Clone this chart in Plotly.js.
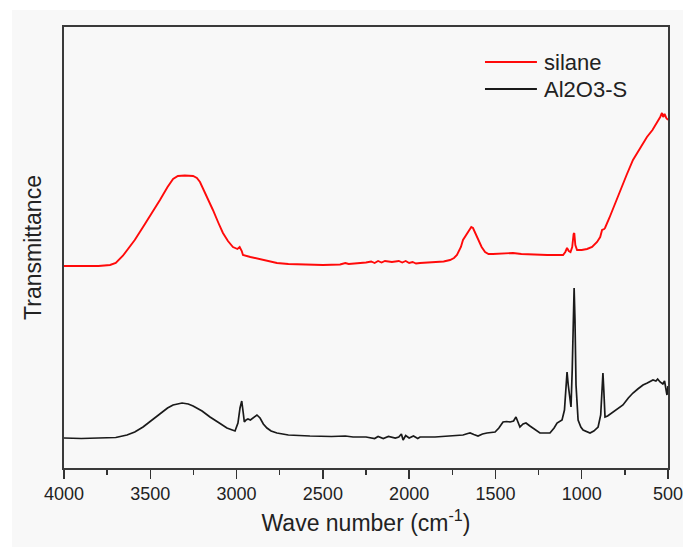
<!DOCTYPE html>
<html>
<head>
<meta charset="utf-8">
<script src="https://cdn.plot.ly/plotly-3.0.1.min.js"></script>
<style>
  html, body { margin: 0; padding: 0; background: #ffffff; }
  #chart { width: 683px; height: 547px; }
</style>
</head>
<body>
<div id="chart"></div>
<script>
// Wave numbers (cm-1) and transmittance (arbitrary units)
const silaneWavenumber = [4000, 3900, 3800, 3733, 3700, 3660, 3635, 3590, 3542, 3490, 3444, 3400, 3368, 3340, 3300, 3252, 3230, 3212, 3175, 3137, 3105, 3079, 3050, 3021, 2995, 2982, 2970, 2963, 2920, 2864, 2800, 2766, 2700, 2632, 2500, 2400, 2370, 2350, 2300, 2250, 2220, 2200, 2180, 2160, 2140, 2100, 2060, 2040, 2020, 2000, 1980, 1960, 1937, 1880, 1800, 1763, 1740, 1723, 1700, 1688, 1660, 1640, 1630, 1615, 1601, 1580, 1560, 1540, 1514, 1450, 1398, 1350, 1300, 1259, 1200, 1108, 1095, 1085, 1075, 1065, 1055, 1047, 1043, 1037, 1027, 1000, 969, 940, 911, 893, 882, 870, 865, 840, 800, 778, 740, 703, 660, 622, 590, 564, 545, 535, 528, 520, 510, 500];
const silaneTransmittance = [202, 202, 202, 203, 205, 212, 218, 228, 241, 255, 268, 281, 289, 292, 292.5, 292, 290, 286, 273, 258, 245, 235, 227, 221, 219, 221, 217, 213, 211, 209, 206, 205, 204, 203.5, 203, 203.5, 205, 204, 204.5, 205.5, 206.5, 205, 207, 205.5, 207, 206, 207, 205.5, 207, 205, 206, 204.5, 205, 205.5, 206.5, 208, 210, 213, 221, 228, 236, 241, 240, 234, 228, 221, 216, 214, 214, 214.5, 215, 214, 213.5, 213, 213, 213, 216, 220, 217, 216, 221, 234, 235, 223, 218, 218, 219, 221, 226, 231, 238, 239, 240, 250, 268, 278, 293, 308, 321, 331, 338, 345, 351, 355, 351, 354, 350, 348];

const aluminaWavenumber = [4000, 3900, 3800, 3700, 3635, 3590, 3542, 3490, 3444, 3400, 3368, 3316, 3280, 3252, 3200, 3154, 3100, 3056, 3009, 2992, 2980, 2970, 2962, 2955, 2945, 2934, 2920, 2900, 2882, 2864, 2845, 2824, 2800, 2766, 2700, 2575, 2450, 2370, 2325, 2250, 2200, 2180, 2150, 2120, 2080, 2060, 2045, 2035, 2020, 2000, 1975, 1950, 1937, 1850, 1750, 1688, 1660, 1647, 1625, 1601, 1575, 1549, 1502, 1480, 1456, 1435, 1415, 1395, 1381, 1370, 1358, 1340, 1323, 1300, 1282, 1262, 1242, 1184, 1160, 1143, 1114, 1100, 1093, 1085, 1078, 1068, 1062, 1055, 1049, 1044, 1039, 1033, 1021, 1005, 992, 952, 930, 905, 890, 882, 877, 872, 865, 850, 818, 790, 761, 730, 703, 675, 645, 620, 600, 587, 570, 560, 546, 530, 520, 512, 506, 500];
const aluminaTransmittance = [30, 29.5, 30, 30.5, 33, 36, 41, 48, 55, 60, 63, 65, 64, 62, 57, 51, 45, 40, 37, 45, 60, 67, 56, 46, 48, 49, 48, 51, 53, 50, 44, 40, 37, 35, 33, 32, 31.5, 32, 31, 31, 29.5, 31.5, 29.5, 31.5, 30, 31, 34, 28, 32.5, 30, 32, 29.5, 31, 31, 32, 33, 34.5, 35, 33.5, 32, 34, 35, 36, 40, 46, 46.5, 46, 47, 51, 46, 41, 44, 45, 42, 40, 37, 35, 35, 40, 45, 48, 58, 83, 96, 83, 65, 61, 98, 158, 180, 148, 83, 48, 41, 38, 35, 37, 41, 53, 83, 95, 78, 51, 52, 56, 59, 63, 70, 75, 79, 83, 85, 87, 88, 87, 89, 86, 84, 87, 80, 73, 82];

const seriesNames = ['silane', 'Al2O3-S'];
const seriesColors = ['#ff0a0a', '#1a1a1a'];
const xTickValues = [4000, 3500, 3000, 2500, 2000, 1500, 1000, 500];
const xTickLabels = ['4000', '3500', '3000', '2500', '2000', '1500', '1000', '500'];

const FONT = '"Liberation Sans", Arial, sans-serif';

const traces = [
  {
    x: silaneWavenumber, y: silaneTransmittance, name: seriesNames[0],
    type: 'scatter', mode: 'lines',
    line: { color: seriesColors[0], width: 1.9 }
  },
  {
    x: aluminaWavenumber, y: aluminaTransmittance, name: seriesNames[1],
    type: 'scatter', mode: 'lines',
    line: { color: seriesColors[1], width: 1.7 }
  }
];

// Legend drawn as line samples + text (paper coordinates)
const legendRowsY = [0.9206, 0.8594];
const legendShapes = seriesNames.map((n, i) => ({
  type: 'line', xref: 'paper', yref: 'paper',
  x0: 0.697, x1: 0.783, y0: legendRowsY[i], y1: legendRowsY[i],
  line: { color: seriesColors[i], width: 1.8 }
}));
const legendTexts = seriesNames.map((n, i) => ({
  xref: 'paper', yref: 'paper', x: 0.791, y: legendRowsY[i],
  xanchor: 'left', yanchor: 'middle', showarrow: false,
  text: n, font: { family: FONT, size: 22, color: '#222222' }
}));

const layout = {
  width: 683, height: 547,
  margin: { l: 64, r: 15, t: 27, b: 79, pad: 0 },
  paper_bgcolor: '#ffffff',
  plot_bgcolor: 'rgba(0,0,0,0)',
  font: { family: FONT, color: '#222222' },
  showlegend: false,
  xaxis: {
    range: [4000, 500], autorange: false,
    tickmode: 'array', tickvals: xTickValues, ticktext: xTickLabels,
    ticks: 'outside', ticklen: 9, tickwidth: 1.5, tickcolor: '#333333',
    ticklabeloverflow: 'allow',
    minor: { dtick: 250, ticks: 'outside', ticklen: 5, tickwidth: 1.5, tickcolor: '#333333' },
    showline: true, linecolor: '#3a3a3a', linewidth: 1.6, mirror: true,
    showgrid: false, zeroline: false,
    tickfont: { family: FONT, size: 18, color: '#222222' },
    title: { text: 'Wave number (cm<sup>-1</sup>)', font: { family: FONT, size: 23, color: '#222222' }, standoff: 11 }
  },
  yaxis: {
    range: [0, 441], autorange: false,
    showticklabels: false, ticks: '',
    showline: true, linecolor: '#3a3a3a', linewidth: 1.6, mirror: true,
    showgrid: false, zeroline: false,
    title: { text: 'Transmittance', font: { family: FONT, size: 23, color: '#222222' }, standoff: 14 }
  },
  annotations: legendTexts,
  shapes: [
    { type: 'rect', xref: 'paper', yref: 'paper', layer: 'below',
      x0: -0.0861, x1: 1.03, y0: -0.2, y1: 1.0385,
      fillcolor: '#f8f8f8', line: { width: 0 } }
  ].concat(legendShapes)
};

Plotly.newPlot('chart', traces, layout, { displayModeBar: false, staticPlot: true });
</script>
</body>
</html>
